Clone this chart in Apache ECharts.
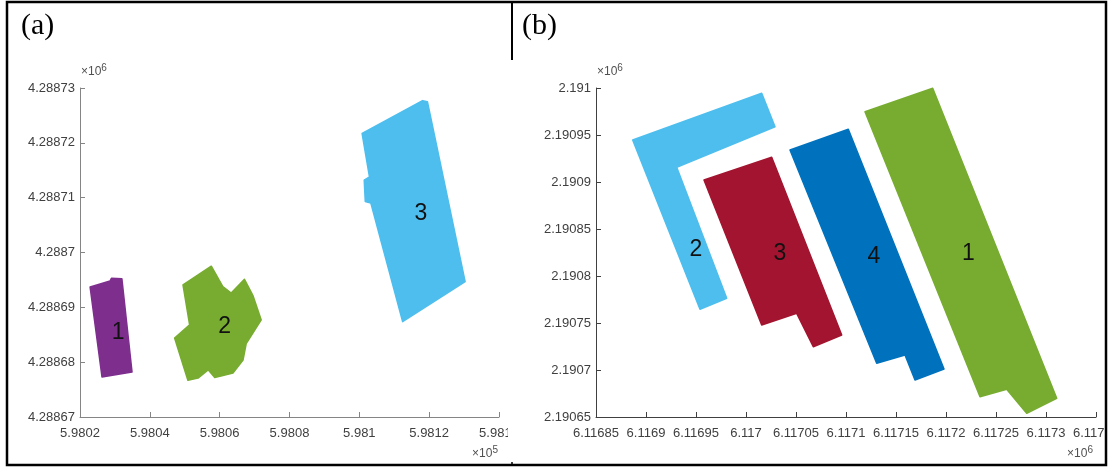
<!DOCTYPE html>
<html>
<head>
<meta charset="utf-8">
<script src="https://cdn.jsdelivr.net/npm/echarts@6/dist/echarts.min.js"></script>
<style>html,body{margin:0;padding:0;background:#fff}#c{width:1109px;height:470px}</style>
</head>
<body>
<div id="c"></div>
<script>
// ---------- Panel (a) data ----------
const aXTicks = [598020, 598040, 598060, 598080, 598100, 598120, 598140];
const aXTickLabels = ['5.9802','5.9804','5.9806','5.9808','5.981','5.9812','5.9814'];
const aYTicks = [4288670, 4288680, 4288690, 4288700, 4288710, 4288720, 4288730];
const aYTickLabels = ['4.28867','4.28868','4.28869','4.2887','4.28871','4.28872','4.28873'];

const aField1 = [[598022.9,4288693.7],[598028.6,4288694.8],[598029.0,4288695.3],[598032.0,4288695.2],[598034.9,4288678.2],[598026.3,4288677.3]];
const aField2 = [[598057.6,4288697.5],[598060.9,4288693.8],[598063.3,4288692.6],[598067.1,4288695.1],[598069.5,4288692.2],[598071.9,4288687.7],[598067.6,4288683.4],[598066.7,4288680.4],[598063.8,4288678.0],[598058.6,4288677.2],[598056.7,4288678.6],[598053.8,4288677.1],[598050.9,4288676.7],[598047.1,4288684.4],[598051.4,4288686.8],[598049.5,4288694.1]];
const aField3 = [[598100.8,4288721.7],[598118.1,4288727.7],[598119.5,4288727.5],[598130.3,4288694.7],[598112.4,4288687.4],[598103.3,4288709.0],[598101.7,4288709.3],[598101.4,4288713.2],[598102.9,4288713.8]];
const aFields = [aField1, aField2, aField3];
const aNames = ['1','2','3'];
const aLabelX = [598030.9, 598061.4, 598117.6];
const aLabelY = [4288685.3, 4288686.4, 4288707.1];
const aColors = ['#7E2F8E','#77AC30','#4DBEEE'];

// ---------- Panel (b) data ----------
const bXTicks = [6116850,6116900,6116950,6117000,6117050,6117100,6117150,6117200,6117250,6117300,6117350];
const bXTickLabels = ['6.11685','6.1169','6.11695','6.117','6.11705','6.1171','6.11715','6.1172','6.11725','6.1173','6.11735'];
const bYTicks = [2190650,2190700,2190750,2190800,2190850,2190900,2190950,2191000];
const bYTickLabels = ['2.19065','2.1907','2.19075','2.1908','2.19085','2.1909','2.19095','2.191'];

const bField1 = [[6117119.0,2190974.8],[6117186.7,2190999.7],[6117310.7,2190669.9],[6117280.7,2190653.9],[6117260.7,2190679.5],[6117234.0,2190671.6]];
const bField2 = [[6116886.7,2190944.7],[6117015.7,2190994.4],[6117029.0,2190958.8],[6116930.7,2190915.6],[6116980.7,2190776.3],[6116954.0,2190764.6]];
const bField3 = [[6116958.0,2190902.1],[6117025.7,2190926.3],[6117095.7,2190737.2],[6117067.3,2190724.8],[6117050.7,2190760.3],[6117015.7,2190747.9]];
const bField4 = [[6117044.0,2190934.0],[6117102.3,2190956.1],[6117198.0,2190701.1],[6117169.0,2190689.4],[6117159.0,2190716.0],[6117130.7,2190707.1]];
const bFields = [bField1, bField2, bField3, bField4];
const bNames = ['1','2','3','4'];
const bLabelX = [6117222.3, 6116950.0, 6117034.0, 6117128.0];
const bLabelY = [2190824.1, 2190827.7, 2190824.1, 2190820.5];
const bColors = ['#77AC30','#4DBEEE','#A2142F','#0072BD'];

// ---------- helpers ----------
const FONT = '"Liberation Sans", Arial, Helvetica, sans-serif';
function render(fields, names, colors) {
  return function (params, api) {
    const i = params.dataIndex;
    const pts = fields[i].map(p => api.coord(p));
    const lp = api.coord([api.value(0), api.value(1)]);
    return {
      type: 'group',
      children: [
        { type: 'polygon', shape: { points: pts }, style: { fill: colors[i], stroke: colors[i], lineWidth: 1.5, lineJoin: 'round' } },
        { type: 'text', z2: 10, style: { text: names[i], x: lp[0], y: lp[1], align: 'center', verticalAlign: 'middle',
            fontFamily: FONT, fontSize: 23, fill: '#111' } }
      ]
    };
  };
}
function valAxis(ticks, labels, grid, color, isX) {
  return {
    type: 'value', gridIndex: grid,
    min: ticks[0], max: ticks[ticks.length - 1], interval: ticks[1] - ticks[0],
    splitLine: { show: false },
    axisLine: { show: true, onZero: false, lineStyle: { color: color, width: 1 } },
    axisTick: { show: true, inside: true, length: 5, lineStyle: { color: color } },
    axisLabel: {
      show: true, margin: isX ? 10 : 5, color: '#404040', fontFamily: FONT, fontSize: 13,
      showMinLabel: true, showMaxLabel: true, hideOverlap: false,
      formatter: function (v) {
        const k = Math.round((v - ticks[0]) / (ticks[1] - ticks[0]));
        return labels[k] !== undefined ? labels[k] : '';
      }
    }
  };
}
function expo(x, y, p, align) {
  return { type: 'text', z: 100, style: { x: x, y: y, text: '×10{s|' + p + '}', align: align, verticalAlign: 'bottom',
      fontFamily: FONT, fontSize: 12, fill: '#505050',
      rich: { s: { fontSize: 10, verticalAlign: 'top', padding: [0, 0, 7, 0], fill: '#505050' } } } };
}

const chart = echarts.init(document.getElementById('c'), null, { renderer: 'canvas' });
chart.setOption({
  backgroundColor: '#fff',
  animation: false,
  grid: [
    { left: 80, top: 88, width: 419, height: 329, containLabel: false, outerBoundsMode: 'none' },
    { left: 596, top: 88, width: 500, height: 329, containLabel: false, outerBoundsMode: 'none' }
  ],
  xAxis: [
    valAxis(aXTicks, aXTickLabels, 0, '#858585', true),
    valAxis(bXTicks, bXTickLabels, 1, '#404040', true)
  ],
  yAxis: [
    valAxis(aYTicks, aYTickLabels, 0, '#858585', false),
    valAxis(bYTicks, bYTickLabels, 1, '#404040', false)
  ],
  series: [
    { type: 'custom', xAxisIndex: 0, yAxisIndex: 0, clip: false,
      data: aLabelX.map((x, i) => [x, aLabelY[i]]), renderItem: render(aFields, aNames, aColors) },
    { type: 'custom', xAxisIndex: 1, yAxisIndex: 1, clip: false,
      data: bLabelX.map((x, i) => [x, bLabelY[i]]), renderItem: render(bFields, bNames, bColors) }
  ],
  graphic: [
    // clip the last tick label of panel (a)
    { type: 'rect', z: 100, shape: { x: 508, y: 424, width: 14, height: 20 }, style: { fill: '#fff' } },
    // exponent labels
    expo(81, 80, '6', 'left'),
    expo(597, 80, '6', 'left'),
    expo(498, 462, '5', 'right'),
    expo(1093, 462, '6', 'right'),
    // panel titles
    { type: 'text', z: 100, style: { x: 21, y: 26, text: '(a)', verticalAlign: 'middle',
        fontFamily: '"Liberation Serif", "Times New Roman", serif', fontSize: 30, fill: '#000' } },
    { type: 'text', z: 100, style: { x: 522, y: 26, text: '(b)', verticalAlign: 'middle',
        fontFamily: '"Liberation Serif", "Times New Roman", serif', fontSize: 30, fill: '#000' } },
    // right-side white margin then border
    { type: 'rect', z: 99, shape: { x: 1105, y: 0, width: 10, height: 470 }, style: { fill: '#fff' } },
    { type: 'rect', z: 101, shape: { x: 7, y: 2, width: 1099, height: 463 }, style: { fill: 'none', stroke: '#000', lineWidth: 2.5 } },
    { type: 'line', z: 101, shape: { x1: 512, y1: 2, x2: 512, y2: 60 }, style: { stroke: '#000', lineWidth: 2 } },
    { type: 'line', z: 101, shape: { x1: 512, y1: 462, x2: 512, y2: 465 }, style: { stroke: '#000', lineWidth: 1.5 } }
  ]
});
</script>
</body>
</html>
